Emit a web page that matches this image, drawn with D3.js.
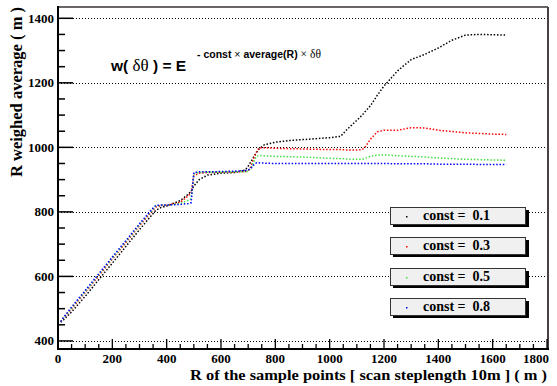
<!DOCTYPE html>
<html>
<head>
<meta charset="utf-8">
<script src="https://cdn.jsdelivr.net/npm/d3@7"></script>
<style>
  html, body { margin: 0; padding: 0; background: #fff; }
  svg { display: block; }
  text { white-space: pre; }
</style>
</head>
<body>
<svg id="chart" width="557" height="386"></svg>
<script>
// ---------- data ----------
const R = [10, 20, 50, 100, 150, 200, 250, 300, 350, 360, 380, 400, 450, 480, 490, 500, 520, 550, 600, 650, 690, 700, 710, 720, 730, 740, 760, 800, 850, 900, 950, 1000, 1040, 1060, 1080, 1100, 1120, 1130, 1150, 1175, 1200, 1250, 1300, 1350, 1400, 1450, 1500, 1550, 1600, 1650];

const c01 = [458, 465, 490, 538, 590, 641, 693, 745, 795, 805, 814, 818, 835, 855, 864, 880, 900, 914, 920, 922, 930, 942, 955, 970, 983, 995, 1008, 1016, 1021, 1024, 1027, 1030, 1034, 1052, 1068, 1084, 1100, 1110, 1129, 1161, 1190, 1237, 1272, 1288, 1308, 1332, 1348, 1350, 1349, 1348];
const c03 = [460, 470, 500, 550, 602, 654, 705, 757, 806, 815, 820, 821, 830, 850, 859, 912, 920, 922, 923, 924, 925, 928, 940, 965, 985, 998, 999, 997, 996, 995, 994, 993, 993, 992, 992, 992, 993, 1000, 1025, 1048, 1053, 1053, 1061, 1060, 1053, 1049, 1045, 1043, 1041, 1040];
const c05 = [460, 471, 502, 553, 605, 657, 708, 760, 809, 818, 821, 821, 826, 836, 840, 918, 922, 923, 923, 924, 924, 926, 935, 955, 972, 975, 974, 972, 971, 970, 968, 966, 965, 964, 963, 963, 963, 966, 972, 976, 977, 974, 972, 970, 967, 965, 963, 962, 961, 960];
const c08 = [460, 472, 505, 556, 608, 660, 711, 763, 812, 820, 821, 821, 823, 826, 828, 922, 924, 924, 925, 926, 928, 930, 935, 945, 952, 952, 951, 950, 950, 950, 950, 950, 950, 950, 950, 950, 950, 950, 950, 950, 950, 949, 949, 949, 948, 948, 948, 947, 947, 947];

const seriesNames = ["const =  0.1", "const =  0.3", "const =  0.5", "const =  0.8"];
const seriesColors = ["#000000", "#ff0000", "#44dd44", "#0000ff"];
const seriesValues = [c01, c03, c05, c08];

const xTicksMajor = [0, 200, 400, 600, 800, 1000, 1200, 1400, 1600, 1800];
const yTicksMajor = [400, 600, 800, 1000, 1200, 1400];

// ---------- layout ----------
const svg = d3.select("#chart");
const L = 58, Rr = 547, T = 7, B = 349;
const x = d3.scaleLinear().domain([0, 1800]).range([L, Rr]);
const y = d3.scaleLinear().domain([375, 1435]).range([B, T]);

const serif = "'Liberation Serif', 'Times New Roman', serif";
const sans = "'Liberation Sans', Arial, sans-serif";

// gridlines
svg.append("g").selectAll("line").data(yTicksMajor).join("line")
  .attr("x1", L).attr("x2", Rr)
  .attr("y1", d => Math.round(y(d)) + 0.5).attr("y2", d => Math.round(y(d)) + 0.5)
  .attr("stroke", "#000").attr("stroke-width", 1).attr("stroke-dasharray", "1,2");

// frame top/right
svg.append("line").attr("x1", L).attr("x2", Rr + 1).attr("y1", T).attr("y2", T)
  .attr("stroke", "#3a3333").attr("stroke-width", 1.5);
svg.append("line").attr("x1", Rr + 1).attr("x2", Rr + 1).attr("y1", T).attr("y2", B)
  .attr("stroke", "#4a3f3f").attr("stroke-width", 2);

// series
const line = d3.line().x((d, i) => x(R[i])).y(d => y(d));
seriesValues.forEach((vals, k) => {
  svg.append("path").datum(vals)
    .attr("d", line)
    .attr("fill", "none")
    .attr("stroke", seriesColors[k])
    .attr("stroke-width", 1.5)
    .attr("stroke-dasharray", "1.5,1.8");
});

// y axis
const gy = svg.append("g");
gy.selectAll("line.tk").data(d3.range(400, 1401, 50)).join("line")
  .attr("x1", L).attr("x2", d => L + (d % 200 === 0 ? 15 : 7))
  .attr("y1", d => y(d)).attr("y2", d => y(d))
  .attr("stroke", "#000").attr("stroke-width", 1.5);
gy.selectAll("text").data(yTicksMajor).join("text")
  .attr("x", 54).attr("y", d => y(d) + 4.5)
  .attr("text-anchor", "end")
  .attr("font-family", serif).attr("font-weight", "bold").attr("font-size", 13)
  .text(d => d);
svg.append("line").attr("x1", L).attr("x2", L).attr("y1", T - 1).attr("y2", B + 1)
  .attr("stroke", "#000").attr("stroke-width", 2);

// x axis
const gx = svg.append("g");
gx.selectAll("line.tk").data(d3.range(0, 1801, 50)).join("line")
  .attr("x1", d => x(d)).attr("x2", d => x(d))
  .attr("y1", B).attr("y2", d => B - (d % 200 === 0 ? 10 : 5))
  .attr("stroke", "#000").attr("stroke-width", 1.3);
gx.selectAll("text").data(xTicksMajor).join("text")
  .attr("x", d => d === 1800 ? 549 : x(d))
  .attr("y", 363)
  .attr("text-anchor", d => d === 1800 ? "end" : "middle")
  .attr("font-family", serif).attr("font-weight", "bold").attr("font-size", 13)
  .text(d => d);
svg.append("line").attr("x1", L - 1).attr("x2", Rr + 2).attr("y1", B).attr("y2", B)
  .attr("stroke", "#000").attr("stroke-width", 2);

// axis titles
svg.append("text")
  .attr("x", 547).attr("y", 379.5)
  .attr("text-anchor", "end")
  .attr("font-family", serif).attr("font-weight", "bold").attr("font-size", 14.5)
  .attr("textLength", 357).attr("lengthAdjust", "spacingAndGlyphs")
  .text("R of the sample points [ scan steplength 10m ] ( m )");
svg.append("text")
  .attr("transform", "translate(22,7) rotate(-90)")
  .attr("text-anchor", "end")
  .attr("font-family", serif).attr("font-weight", "bold").attr("font-size", 16.5)
  .text("R weighed average ( m )");

// formula
const f = svg.append("text").attr("x", 111).attr("y", 71)
  .attr("font-family", sans).attr("font-size", 15.5);
f.append("tspan").attr("font-weight", "bold").text("w( ");
f.append("tspan").attr("font-family", serif).attr("font-size", 17).text("δθ");
f.append("tspan").attr("font-weight", "bold").text(" ) = E");
const s = svg.append("text").attr("x", 197).attr("y", 58)
  .attr("font-family", sans).attr("font-size", 10.5);
s.append("tspan").attr("font-weight", "bold").text("- const ");
s.append("tspan").text("× ");
s.append("tspan").attr("font-weight", "bold").text("average(R) ");
s.append("tspan").attr("font-family", serif).attr("font-size", 11.5).text("× δθ");

// legend boxes
const boxTops = [207, 237, 268, 298];
const lg = svg.append("g");
seriesNames.forEach((name, k) => {
  const t = boxTops[k];
  lg.append("rect").attr("x", 393).attr("y", t + 3).attr("width", 136).attr("height", 17).attr("fill", "#000");
  lg.append("rect").attr("x", 390.5).attr("y", t + 0.5).attr("width", 135).attr("height", 17)
    .attr("fill", "#f0f0f0").attr("stroke", "#333").attr("stroke-width", 1);
  lg.append("rect").attr("x", 406).attr("y", t + 9).attr("width", 1.5).attr("height", 1.5)
    .attr("fill", seriesColors[k]);
  lg.append("text").attr("x", 423).attr("y", t + 13)
    .attr("font-family", serif).attr("font-weight", "bold").attr("font-size", 14)
    .text(name);
});
</script>
</body>
</html>
